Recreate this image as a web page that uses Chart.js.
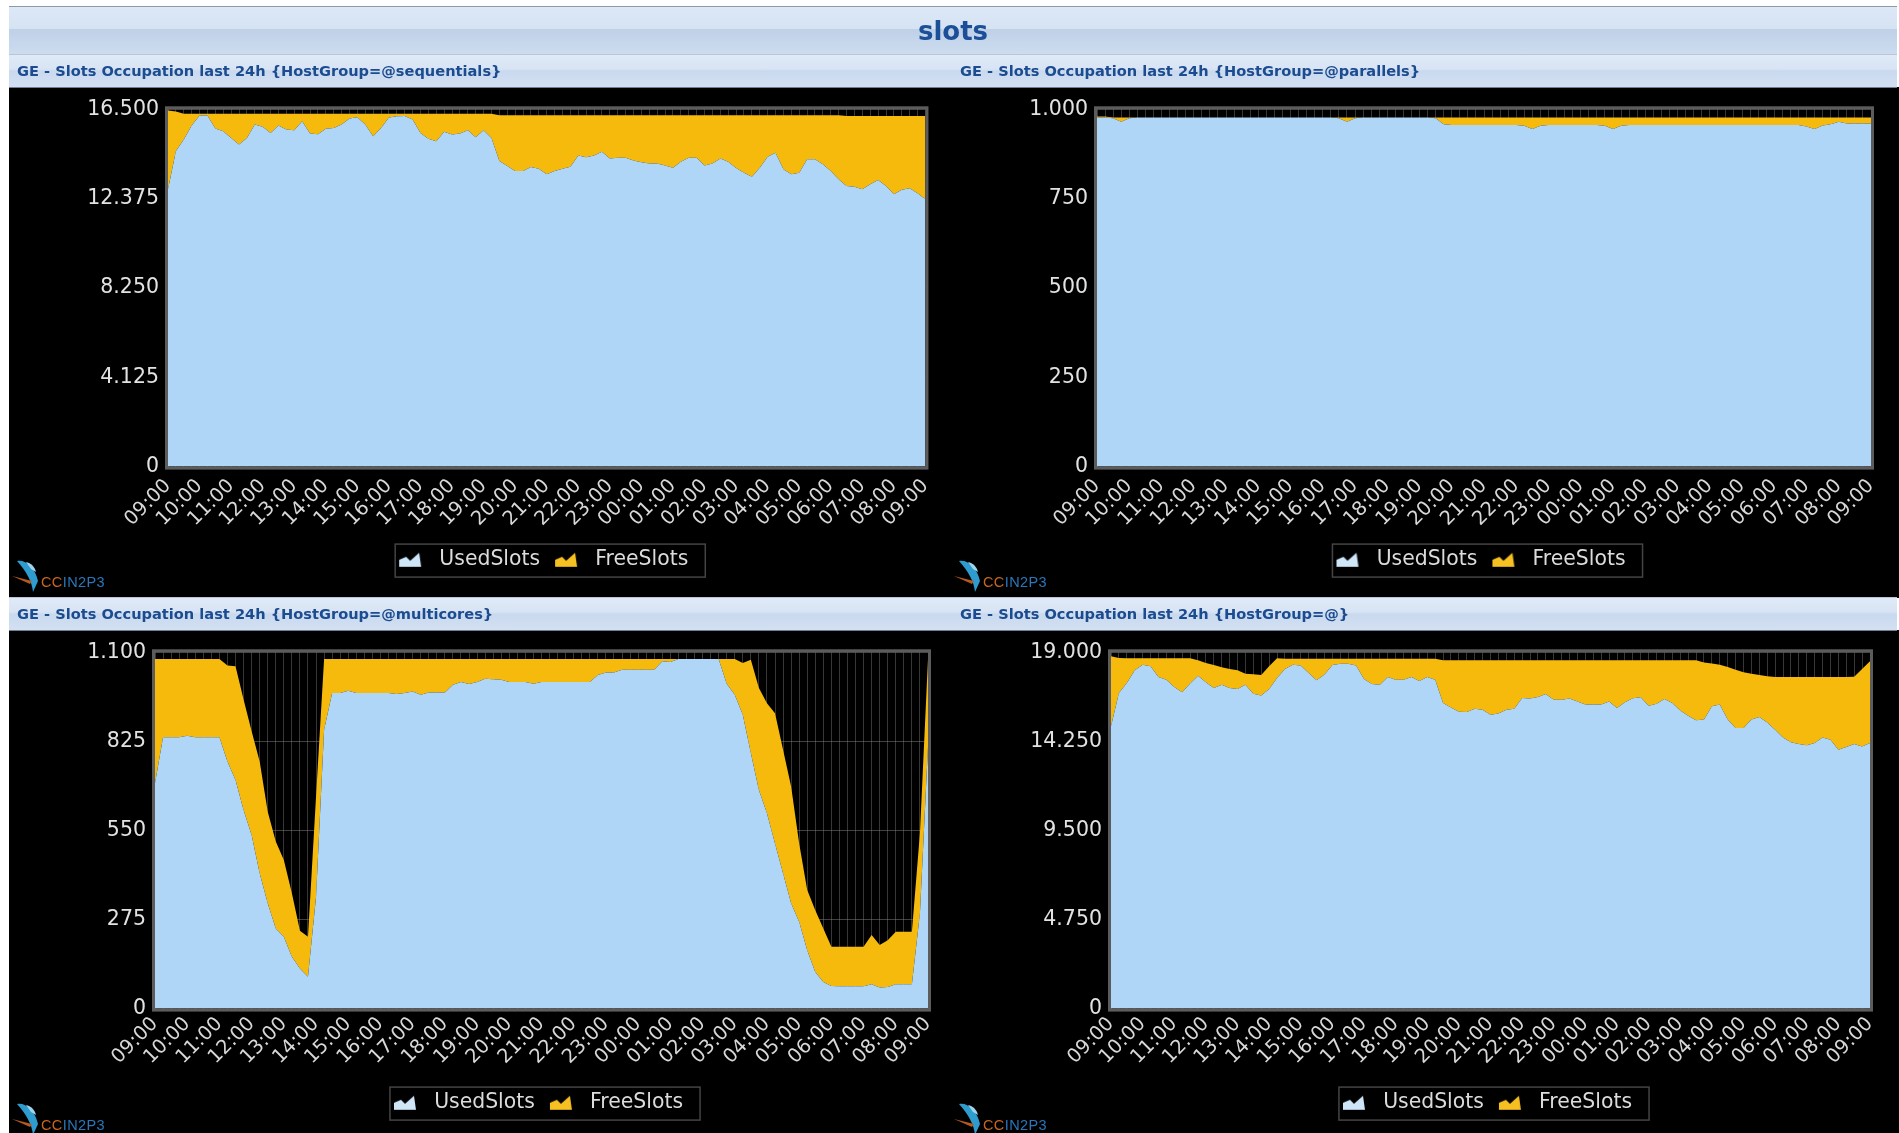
<!DOCTYPE html>
<html><head><meta charset="utf-8">
<style>
html,body{margin:0;padding:0;background:#fff;width:1899px;height:1133px;overflow:hidden}
#page{position:absolute;left:0;top:0;width:1899px;height:1133px;filter:blur(0.55px)}
.abs{position:absolute}
#titleBar{left:9px;top:6px;width:1888px;height:48px;background:linear-gradient(#dce8f6 0,#d6e3f3 46%,#bfd0e7 47%,#cddcef 100%);border-top:1px solid #8f9aa8;box-sizing:border-box;text-align:center;font:bold 26px "DejaVu Sans";color:#1b4f97;line-height:49px}
.sub{left:9px;width:1888px;height:34px;background:linear-gradient(#e0eaf7 0,#d8e4f4 44%,#c9d9ee 50%,#d3e0f2 100%);border-top:1px solid #b9c6d8;border-bottom:1px solid #6f7f95;box-sizing:border-box}
.subt{position:absolute;font:bold 14.6px "DejaVu Sans";color:#1c4c90;white-space:nowrap;line-height:18px}
.black{left:9px;width:1890px;background:#000}
canvas{position:absolute;display:block}
.logo{position:absolute;width:96px;height:34px}
.logo span{position:absolute;left:30px;top:15px;font:14.5px "Liberation Sans Narrow","Liberation Sans";letter-spacing:.4px;color:#2a76b8;white-space:nowrap}
.logo b{font-weight:normal;color:#c9651c}
</style></head>
<body>
<div id="page">
<div class="abs black" style="top:87px;height:511px"></div>
<div class="abs black" style="top:630px;height:503px"></div>
<div class="abs" id="titleBar">slots</div>
<div class="abs sub" style="top:54px"></div>
<div class="abs sub" style="top:597px"></div>
</div>
<script src="https://cdn.jsdelivr.net/npm/chart.js@4"></script>
<script>
const hourLabels = ['09:00','10:00','11:00','12:00','13:00','14:00','15:00','16:00','17:00','18:00','19:00','20:00','21:00','22:00','23:00','00:00','01:00','02:00','03:00','04:00','05:00','06:00','07:00','08:00','09:00'];

const seqYTicks = ['0','4.125','8.250','12.375','16.500'];
const parYTicks = ['0','250','500','750','1.000'];
const mulYTicks = ['0','275','550','825','1.100'];
const allYTicks = ['0','4.750','9.500','14.250','19.000'];

const seqUsed = [12810,14570,15110,15750,16210,16210,15610,15490,15170,14880,15180,15800,15690,15410,15750,15570,15530,15950,15380,15350,15600,15640,15800,16070,16130,15800,15260,15640,16120,16180,16190,16030,15410,15140,15030,15460,15340,15380,15530,15210,15530,15180,14110,13880,13650,13650,13830,13760,13500,13650,13760,13850,14370,14290,14370,14540,14230,14260,14260,14140,14050,14000,14000,13910,13800,14080,14260,14260,13910,14000,14230,14080,13790,13570,13390,13800,14310,14490,13730,13500,13570,14190,14190,13960,13650,13270,12960,12920,12810,13040,13240,12960,12580,12780,12850,12620,12350];
const seqTotal = [16450,16400,16300,16300,16300,16300,16300,16300,16300,16300,16300,16300,16300,16300,16300,16300,16300,16300,16300,16300,16300,16300,16300,16300,16300,16300,16300,16300,16300,16300,16300,16300,16300,16300,16300,16300,16300,16300,16300,16300,16300,16300,16230,16230,16230,16230,16230,16230,16230,16230,16230,16230,16230,16230,16230,16230,16230,16230,16230,16230,16230,16230,16230,16230,16230,16230,16230,16230,16230,16230,16230,16230,16230,16230,16230,16230,16230,16230,16230,16230,16230,16230,16230,16230,16230,16230,16190,16190,16190,16190,16190,16190,16190,16190,16190,16190,16190];

const parUsed = [977,977,975,965,975,977,977,977,977,977,977,977,977,977,977,977,977,977,977,977,977,977,977,977,977,977,977,977,977,977,975,965,975,977,977,977,977,977,977,977,977,977,975,958,956,956,956,956,956,956,956,956,956,954,945,954,956,956,956,956,956,956,956,954,945,954,956,956,956,956,956,956,956,956,956,956,956,956,956,956,956,956,956,956,956,956,956,956,952,945,955,958,965,960,960,960,960];
const parTotal = [980,980,977,977,977,977,977,977,977,977,977,977,977,977,977,977,977,977,977,977,977,977,977,977,977,977,977,977,977,977,977,977,977,977,977,977,977,977,977,977,977,977,977,977,977,977,977,977,977,977,977,977,977,977,977,977,977,977,977,977,977,977,977,977,977,977,977,977,977,977,977,977,977,977,977,977,977,977,977,977,977,977,977,977,977,977,977,977,977,977,977,977,977,977,977,977,977];

const mulUsed = [696,838,838,838,842,838,838,838,838,763,706,613,536,418,325,247,222,160,124,98,345,861,974,974,981,974,974,974,974,974,971,974,979,969,976,976,976,1000,1008,1002,1008,1018,1017,1015,1008,1008,1008,1003,1008,1008,1008,1008,1008,1008,1008,1030,1038,1038,1046,1046,1046,1046,1046,1072,1070,1079,1079,1079,1079,1079,1079,1003,969,907,789,675,603,510,418,325,268,180,113,82,70,69,69,69,69,75,65,67,75,75,75,294,809];
const mulTotal = [1079,1079,1079,1079,1079,1079,1079,1079,1079,1059,1057,954,856,763,608,516,459,356,240,222,655,1079,1079,1079,1079,1079,1079,1079,1079,1079,1079,1079,1079,1079,1079,1079,1079,1079,1079,1079,1079,1079,1079,1079,1079,1079,1079,1079,1079,1079,1079,1079,1079,1079,1079,1079,1079,1079,1079,1079,1079,1079,1079,1079,1079,1079,1079,1079,1079,1079,1079,1079,1079,1067,1077,990,943,912,799,686,510,366,304,247,191,191,191,191,191,227,196,211,237,237,237,541,1079];

const allUsed = [15050,16830,17360,18040,18340,18250,17680,17540,17150,16870,17330,17750,17400,17100,17270,17100,17040,17270,16790,16700,17040,17630,18110,18340,18290,17900,17510,17810,18320,18390,18390,18290,17580,17310,17270,17680,17540,17540,17680,17470,17680,17540,16300,16060,15830,15820,15990,15940,15670,15730,15940,15990,16560,16530,16620,16780,16470,16470,16530,16380,16220,16210,16210,16380,16030,16330,16550,16600,16150,16260,16510,16300,15900,15620,15370,15410,16120,16210,15410,14960,14960,15410,15550,15260,14870,14460,14200,14110,14040,14160,14460,14340,13810,13950,14110,13980,14160];
const allTotal = [18790,18700,18680,18680,18680,18680,18680,18680,18680,18680,18680,18570,18430,18320,18200,18110,18040,17860,17830,17790,18250,18680,18660,18660,18660,18660,18660,18660,18660,18660,18660,18660,18660,18660,18660,18660,18660,18660,18660,18660,18660,18660,18570,18570,18570,18570,18570,18570,18570,18570,18570,18570,18570,18570,18570,18570,18570,18570,18570,18570,18570,18570,18570,18570,18570,18570,18570,18570,18570,18570,18570,18570,18570,18570,18570,18450,18400,18340,18220,18070,17930,17860,17790,17720,17680,17680,17680,17680,17680,17680,17680,17680,17680,17680,17700,18110,18520];

const slotLabels = hourLabels.flatMap((h, i) => i === hourLabels.length - 1 ? [h] : [h, h.replace(':00', ':15'), h.replace(':00', ':30'), h.replace(':00', ':45')]);

const USED = '#AFD6F6', FREE = '#F6BA0D';
const Y_AXIS_W = 90;

function icon(col){
  const c = document.createElement('canvas'); c.width = 24; c.height = 16;
  const g = c.getContext('2d'); g.fillStyle = col;
  g.beginPath(); g.moveTo(1,15); g.lineTo(1,8); g.lineTo(8,5); g.lineTo(12,9); g.lineTo(21,1); g.lineTo(23,15); g.closePath(); g.fill();
  return c;
}

const frame = {
  id:'frame',
  afterLayout(ch){ ch.legend.left -= 7; ch.legend.right -= 7; },
  afterDatasetsDraw(ch){
    const a = ch.chartArea, g = ch.ctx;
    g.save(); g.strokeStyle = '#5c5c5c'; g.lineWidth = 3;
    g.strokeRect(a.left-1.5, a.top-1.5, a.right-a.left+3, a.bottom-a.top+3);
    g.restore();
  },
  afterDraw(ch){
    const hb = ch.legend.legendHitBoxes, g = ch.ctx;
    const l = hb[0].left+4, r = hb[hb.length-1].left+hb[hb.length-1].width+17;
    const t = hb[0].top-5.5, b = hb[0].top+20+7.5;
    g.save(); g.strokeStyle = '#444'; g.lineWidth = 1.5;
    g.strokeRect(l, t, r-l, b-t); g.restore();
  }
};

function addPanel(p){
  const page = document.getElementById('page');
  const cv = document.createElement('canvas');
  cv.width = p.x1-p.x0; cv.height = p.y1-p.y0;
  cv.style.left = p.x0+'px'; cv.style.top = p.y0+'px';
  page.appendChild(cv);

  const st = document.createElement('div');
  st.className = 'subt'; st.textContent = p.title;
  st.style.left = p.titleX+'px'; st.style.top = p.titleY+'px';
  page.appendChild(st);

  const lg = document.createElement('div');
  lg.className = 'logo'; lg.style.left = p.logoX+'px'; lg.style.top = p.logoY+'px';
  lg.innerHTML = '<svg width="40" height="34" viewBox="0 0 40 34" style="position:absolute;left:0;top:0"><path d="M6 2 C14 0 24 8 27 22 L22 33 C21 22 15 12 6 2Z" fill="#2f9ccf"/><path d="M15 3 C20 4 24 8 25 13 L20 10Z" fill="#9fd4ea"/><path d="M1 17 L21 22 L19 25Z" fill="#b5591d"/></svg><span><b>CC</b>IN2P3</span>';
  page.appendChild(lg);

  const free = p.total.map((t,i) => t - p.used[i]);
  new Chart(cv, {
    type:'line',
    data:{labels:slotLabels, datasets:[
      {label:'UsedSlots', data:p.used, backgroundColor:USED, borderWidth:0, pointRadius:0, fill:'origin', tension:0, pointStyle:icon('#cfe5f8')},
      {label:'FreeSlots', data:free, backgroundColor:FREE, borderWidth:0, pointRadius:0, fill:'-1', tension:0, pointStyle:icon('#f6bf22')}
    ]},
    options:{
      responsive:false, animation:false, events:[],
      layout:{autoPadding:false, padding:{left:p.pl-p.x0-Y_AXIS_W, right:p.x1-p.pr, top:p.pt-p.y0, bottom:p.y1-p.legBottom}},
      plugins:{
        tooltip:{enabled:false},
        legend:{position:'bottom', fullSize:false, labels:{usePointStyle:true, pointStyleWidth:38, color:'#dcdcdc', padding:7, font:{family:'DejaVu Sans', size:20.4}}}
      },
      scales:{
        x:{type:'category', stacked:true, offset:false,
           afterFit(s){s.height = p.xH;},
           border:{display:false},
           grid:{color:'rgba(130,130,130,.42)', lineWidth:1, drawTicks:false},
           ticks:{autoSkip:false, minRotation:45, maxRotation:45, padding:p.xPad, color:'#d8d8d8', font:{family:'DejaVu Sans', size:19.5},
                  callback(v,i){ return i%4===0 ? hourLabels[i/4] : ''; }}},
        y:{type:'linear', stacked:true, min:0, max:p.max,
           afterFit(s){s.width = Y_AXIS_W;},
           border:{display:false},
           grid:{color:'rgba(130,130,130,.5)', lineWidth:1, drawTicks:false},
           ticks:{stepSize:p.max/4, autoSkip:false, padding:9, color:'#e2e2e2', font:{family:'DejaVu Sans', size:20.5},
                  callback(v,i){ return p.yTicks[i]; }}}
      }
    },
    plugins:[frame]
  });
}

addPanel({title:'GE - Slots Occupation last 24h {HostGroup=@sequentials}', titleX:17, titleY:62, logoX:11, logoY:559,
  x0:9, x1:950, y0:88, y1:597, pl:168, pr:928, pt:108, xH:76, xPad:8, legBottom:580, max:16500, yTicks:seqYTicks, used:seqUsed, total:seqTotal});
addPanel({title:'GE - Slots Occupation last 24h {HostGroup=@parallels}', titleX:960, titleY:62, logoX:953, logoY:559,
  x0:950, x1:1897, y0:88, y1:597, pl:1097, pr:1871, pt:108, xH:76, xPad:8, legBottom:580, max:1000, yTicks:parYTicks, used:parUsed, total:parTotal});
addPanel({title:'GE - Slots Occupation last 24h {HostGroup=@multicores}', titleX:17, titleY:605, logoX:11, logoY:1102,
  x0:9, x1:950, y0:631, y1:1133, pl:155, pr:928, pt:651, xH:77, xPad:4, legBottom:1123, max:1100, yTicks:mulYTicks, used:mulUsed, total:mulTotal});
addPanel({title:'GE - Slots Occupation last 24h {HostGroup=@}', titleX:960, titleY:605, logoX:953, logoY:1102,
  x0:950, x1:1897, y0:631, y1:1133, pl:1111, pr:1870, pt:651, xH:77, xPad:4, legBottom:1123, max:19000, yTicks:allYTicks, used:allUsed, total:allTotal});
</script>
</body></html>
